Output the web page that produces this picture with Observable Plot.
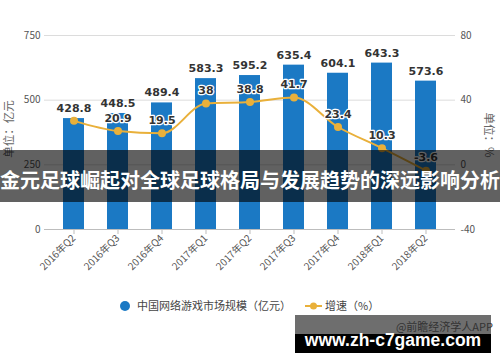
<!DOCTYPE html>
<html><head><meta charset="utf-8">
<script src="https://cdn.jsdelivr.net/npm/d3@7"></script>
<script src="https://cdn.jsdelivr.net/npm/@observablehq/plot@0.6"></script>
<style>
body{margin:0;background:#fff;}
#wrap{position:relative;width:500px;height:362px;overflow:hidden;font-family:"Noto Sans CJK SC","Noto Sans",sans-serif;}
#wrap svg{position:absolute;left:0;top:0;}
.abs{position:absolute;white-space:nowrap;}
.unitL{left:8px;top:129px;transform:translate(-50%,-50%) rotate(-90deg);font-size:11.5px;color:#666;}
.unitR{left:490px;top:135px;transform:translate(-50%,-50%) rotate(90deg);font-size:11.5px;color:#666;}
.legend{top:298px;left:0;width:500px;height:18px;font-size:11px;color:#444;}
.banner{left:0;top:150px;width:500px;height:52px;background:rgba(0,0,0,0.62);}
.bannerText{left:0;top:150px;width:500px;height:52px;line-height:52px;text-align:center;color:#fff;font-weight:bold;font-size:20px;padding-top:4px;box-sizing:border-box;}
.foot1{left:295px;top:315px;width:196px;height:19px;background:#6e6e6e;}
.foot2{left:295px;top:334px;width:196px;height:19px;background:#000;}
.footSrc{left:380px;top:318px;width:113px;text-align:right;font-size:11px;color:#333;line-height:16px;}
.footUrl{left:295px;top:328px;width:196px;text-align:center;color:#fff;font-weight:bold;font-size:17.5px;line-height:24px;font-family:"Liberation Sans",Arial,sans-serif;}
</style></head><body><div id="wrap"></div>
<script>
const categories = ["2016年Q2","2016年Q3","2016年Q4","2017年Q1","2017年Q2","2017年Q3","2017年Q4","2018年Q1","2018年Q2"];
const market = [428.8,448.5,489.4,583.3,595.2,635.4,604.1,643.3,573.6];
const growth = [27.2,20.9,19.5,38,38.8,41.7,23.4,10.3,-3.6];
const leftTicks = [0,250,500,750];
const rightTicks = [-40,0,40,80];
const seriesNames = ["中国网络游戏市场规模（亿元）","增速（%）"];
const unitLeft = "单位：亿元";
const unitRight = "单位：%";
const bannerTitle = "金元足球崛起对全球足球格局与发展趋势的深远影响分析";
const footSource = "@前瞻经济学人APP";
const footUrl = "www.zh-c7game.com";

const blue = "#1b79c4", gold = "#e9b03a";
const gMin = rightTicks[0], gMax = rightTicks[rightTicks.length-1], mMax = leftTicks[leftTicks.length-1];
const toLeft = g => (g - gMin) / (gMax - gMin) * mMax;
const toRight = v => Math.round(v / mMax * (gMax - gMin) + gMin);
const data = categories.map((c,i)=>({cat:c, market:market[i], growth:growth[i], gy:toLeft(growth[i]), i}));

const chart = Plot.plot({
  width:500, height:362,
  marginTop:35, marginBottom:133, marginLeft:44, marginRight:45,
  style:{fontFamily:'"Noto Sans CJK SC","Noto Sans",sans-serif', background:"transparent", overflow:"visible"},
  x:{domain:categories, paddingInner:0.52, paddingOuter:0.43, label:null},
  y:{domain:[0,mMax], label:null},
  marks:[
    Plot.gridY(leftTicks, {stroke:"#dcdcdc", strokeOpacity:1}),
    Plot.axisY(leftTicks, {anchor:"left", tickSize:0, tickPadding:4, fontSize:10, fill:"#555", label:null}),
    Plot.axisY(leftTicks, {anchor:"right", tickSize:0, tickPadding:5, fontSize:10, fill:"#555", label:null, tickFormat:d=>String(toRight(d))}),
    Plot.barY(data, {x:"cat", y:"market", fill:blue}),
    Plot.ruleY([0], {stroke:"#bdbdbd"}),
    Plot.axisX({tickRotate:-45, tickSize:5, tickPadding:2, fontSize:10, fill:"#555", stroke:"#bdbdbd", label:null}),
    Plot.line(data, {x:"cat", y:"gy", stroke:gold, strokeWidth:2, curve:"monotone-x"}),
    Plot.dot(data, {x:"cat", y:"gy", r:4, fill:gold, stroke:null}),
    Plot.text(data, {x:"cat", y:"market", text:d=>d.market.toFixed(1), dy:-10, fontWeight:"bold", fontSize:11, fill:"#333", fontFamily:"DejaVu Sans"}),
    Plot.text(data.filter(d=>d.i>0), {x:"cat", y:"gy", text:d=>String(d.growth), dy:-13, fontWeight:"bold", fontSize:11, fill:"#333", stroke:"#fff", strokeWidth:2.5, fontFamily:"DejaVu Sans"})
  ]
});
const wrap = document.getElementById("wrap");
wrap.appendChild(chart);

function add(cls, html){const d=document.createElement("div");d.className="abs "+cls;d.innerHTML=html;wrap.appendChild(d);return d;}
add("unitL", unitLeft);
add("unitR", unitRight);
add("legend",
  `<svg width="500" height="18" style="position:absolute;left:0;top:0">
     <circle cx="125" cy="8" r="5" fill="${blue}"/>
     <text x="137" y="12" font-size="11" fill="#444">${seriesNames[0]}</text>
     <line x1="305" x2="322" y1="8" y2="8" stroke="${gold}" stroke-width="2"/>
     <circle cx="313.5" cy="8" r="3.5" fill="${gold}"/>
     <text x="325" y="12" font-size="11" fill="#444">${seriesNames[1]}</text>
   </svg>`);
add("banner","");
add("bannerText", bannerTitle);
add("foot1","");
add("foot2","");
add("footSrc", footSource);
add("footUrl", footUrl);
</script></body></html>
